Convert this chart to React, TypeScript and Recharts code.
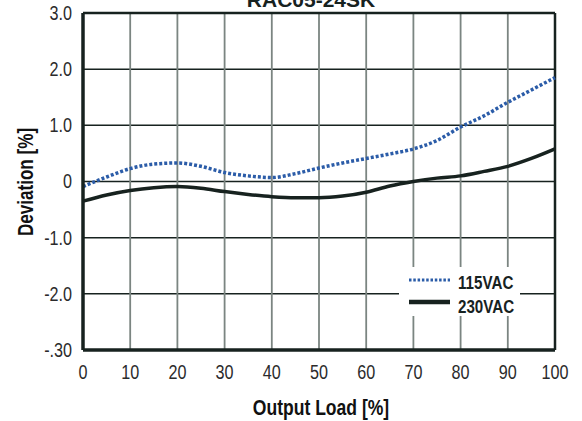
import { CartesianGrid, Line, LineChart, ReferenceLine, XAxis, YAxis } from "recharts";

const loads = [0, 5, 10, 15, 20, 25, 30, 35, 40, 45, 50, 55, 60, 65, 70, 75, 80, 85, 90, 95, 100];
const dev115 = [-0.09, 0.08, 0.23, 0.31, 0.33, 0.27, 0.16, 0.1, 0.07, 0.14, 0.24, 0.33, 0.41, 0.49, 0.58, 0.73, 0.97, 1.17, 1.41, 1.63, 1.85];
const dev230 = [-0.35, -0.24, -0.16, -0.11, -0.09, -0.12, -0.18, -0.23, -0.27, -0.29, -0.29, -0.26, -0.19, -0.08, 0.0, 0.06, 0.1, 0.18, 0.27, 0.41, 0.58];

const xTicks = [0, 10, 20, 30, 40, 50, 60, 70, 80, 90, 100];
const yTicks = [-3, -2, -1, 0, 1, 2, 3];
const yTickLabels = ["-.30", "-2.0", "-1.0", "0", "1.0", "2.0", "3.0"];

const seriesNames = ["115VAC", "230VAC"];
const title = "RAC05-24SK";
const xLabel = "Output Load [%]";
const yLabel = "Deviation [%]";

const data = loads.map((load, i) => ({ load, v115: dev115[i], v230: dev230[i] }));

const font = "'Liberation Sans', Arial, sans-serif";
const dark = "#17221f";
const blue = "#2b5ca8";

// Helvetica Condensed look: Liberation Sans squeezed horizontally
function Tick(props: any) {
  const { x, y, payload, textAnchor, axis } = props;
  const label = axis === "y" ? yTickLabels[yTicks.indexOf(payload.value)] : String(payload.value);
  return (
    <text
      transform={`translate(${x},${y}) scale(0.83,1)`}
      textAnchor={textAnchor}
      dy={axis === "y" ? "0.355em" : "0.71em"}
      fill="#2b2b2b"
      style={{ fontFamily: font, fontSize: 19.5 }}
    >
      {label}
    </text>
  );
}

function Overlay() {
  const bold = { fontFamily: font, fontWeight: 700 } as const;
  return (
    <svg width={582} height={421} style={{ position: "absolute", left: 0, top: 0, pointerEvents: "none" }}>
      <text x={311} y={7} textAnchor="middle" fill={dark} style={{ ...bold, fontSize: 21 }}>
        {title}
      </text>
      <text transform="translate(321,415) scale(0.78,1)" textAnchor="middle" fill="#111" style={{ ...bold, fontSize: 22.5 }}>
        {xLabel}
      </text>
      <text transform="translate(33,182) rotate(-90) scale(0.76,1)" textAnchor="middle" fill="#111" style={{ ...bold, fontSize: 22.5 }}>
        {yLabel}
      </text>
      <rect x={399} y={267} width={121} height={49} fill="#fff" />
      <line x1={409} x2={450} y1={280} y2={280} stroke={blue} strokeWidth={3} strokeDasharray="2.5 1.8" />
      <line x1={409} x2={450} y1={302} y2={302} stroke={dark} strokeWidth={4.5} />
      <text transform="translate(458,289) scale(0.82,1)" fill={dark} style={{ ...bold, fontSize: 18.5 }}>
        {seriesNames[0]}
      </text>
      <text transform="translate(458,312.5) scale(0.82,1)" fill={dark} style={{ ...bold, fontSize: 18.5 }}>
        {seriesNames[1]}
      </text>
    </svg>
  );
}

export default function App() {
  return (
    <div style={{ position: "absolute", left: 0, top: 0, width: 582, height: 421, background: "#fff" }}>
      <LineChart width={582} height={421} data={data} margin={{ top: 13, right: 27, bottom: 0, left: 0 }}>
        <CartesianGrid vertical={false} stroke={dark} strokeWidth={1.5} />
        <CartesianGrid horizontal={false} stroke="#7b8581" strokeWidth={1.8} />
        <XAxis
          dataKey="load"
          type="number"
          domain={[0, 100]}
          ticks={xTicks}
          height={71}
          tickSize={0}
          tickMargin={15}
          axisLine={{ stroke: dark, strokeWidth: 3.5 }}
          tick={<Tick axis="x" />}
        />
        <YAxis
          type="number"
          domain={[-3, 3]}
          ticks={yTicks}
          width={83}
          tickSize={0}
          tickMargin={11}
          axisLine={{ stroke: dark, strokeWidth: 3.5 }}
          tick={<Tick axis="y" />}
        />
        <ReferenceLine y={3} stroke={dark} strokeWidth={2.5} />
        <ReferenceLine x={100} stroke={dark} strokeWidth={2.5} />
        <Line
          type="monotone"
          dataKey="v115"
          name={seriesNames[0]}
          stroke={blue}
          strokeWidth={3.5}
          strokeDasharray="3 2"
          dot={false}
          isAnimationActive={false}
        />
        <Line
          type="monotone"
          dataKey="v230"
          name={seriesNames[1]}
          stroke={dark}
          strokeWidth={3.5}
          dot={false}
          isAnimationActive={false}
        />
      </LineChart>
      <Overlay />
    </div>
  );
}
